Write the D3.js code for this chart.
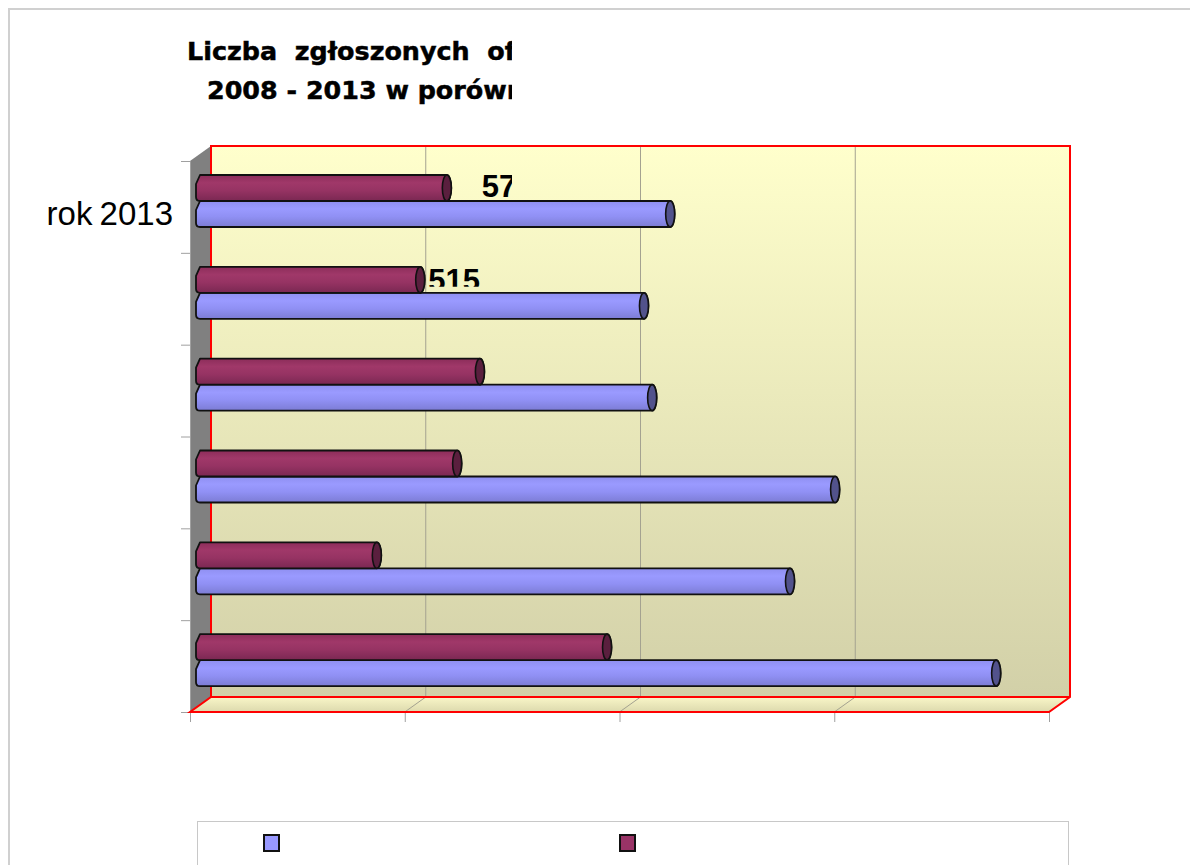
<!DOCTYPE html>
<html>
<head>
<meta charset="utf-8">
<script src="https://d3js.org/d3.v7.min.js"></script>
<style>
  body { margin: 0; background: #fff; }
  svg { display: block; }
</style>
</head>
<body>
<div id="chart-area"></div>
<script>
/*
*    chart.js
*/

// Data
var categories = ["rok 2013", "rok 2012", "rok 2011", "rok 2010", "rok 2009", "rok 2008"];
var tickLabels = ["rok 2013", "", "", "", "", ""];
var seriesRed = [577, 515, 654, 601, 414, 950];
var seriesBlue = [1097, 1036, 1055, 1481, 1376, 1856];
var valueLabels = ["577", "515", "", "", "", ""];
var xTicks = [0, 500, 1000, 1500, 2000];
var titleLines = ["Liczba  zgłoszonych  ofert", "2008 - 2013 w porównaniu"];

var width = 1190;
var height = 865;

var svg = d3.select("#chart-area").append("svg").attr("width", width).attr("height", height);
var defs = svg.append("defs");

// plot geometry (front plane)
var pLeft = 190, pRight = 1049, pTop = 161, pBottom = 712;
var depthX = 21, depthY = -15;
var barOff = 9;   // bars sit a bit behind the front plane

// Scales
var x = d3.scaleLinear().domain([0, 2000]).range([0, pRight - pLeft]);
var y = d3.scaleBand().domain(categories).range([pTop, pBottom]);
var yIdx = d3.scaleLinear().domain([0, categories.length]).range([pTop, pBottom]);

// gradients
function vGrad(id, stops, y1, y2) {
  var gr = defs.append("linearGradient").attr("id", id).attr("gradientUnits", "userSpaceOnUse")
    .attr("x1", 0).attr("x2", 0).attr("y1", y1).attr("y2", y2);
  stops.forEach((s) => { gr.append("stop").attr("offset", s[0]).attr("stop-color", s[1]); });
}
vGrad("wall", [[0, "#ffffcc"], [1, "#d2d0a8"]], pTop + depthY, pBottom + depthY);
vGrad("floor", [[0, "#f9f6c8"], [1, "#dcd9ad"]], pBottom + depthY, pBottom);

function barGrad(id, c) {
  var gr = defs.append("linearGradient").attr("id", id).attr("x1", 0).attr("x2", 0).attr("y1", 0).attr("y2", 1);
  gr.append("stop").attr("offset", 0).attr("stop-color", c[0]);
  gr.append("stop").attr("offset", 0.3).attr("stop-color", c[1]);
  gr.append("stop").attr("offset", 0.6).attr("stop-color", c[2]);
  gr.append("stop").attr("offset", 1).attr("stop-color", c[3]);
}
barGrad("gRed", ["#8c2d5a", "#a03869", "#963363", "#7a2852"]);
barGrad("gBlue", ["#8f8ff0", "#9a9aff", "#9090f4", "#7c7cd4"]);

defs.append("clipPath").attr("id", "clipText").append("rect").attr("x", 0).attr("y", 0).attr("width", 512).attr("height", height);

// outer frame
svg.append("path").attr("d", "M9,865 L9,9 L1190,9").attr("fill", "none").attr("stroke", "#d0d0d0").attr("stroke-width", 2);

// Title
var title = svg.append("g").attr("clip-path", "url(#clipText)");
title.append("text").attr("x", 187).attr("y", 60).attr("font-family", "DejaVu Sans").attr("font-weight", "bold")
  .attr("font-size", "25.4px").attr("stroke", "#000").attr("stroke-width", 0.5)
  .style("white-space", "pre").text(titleLines[0]);
title.append("text").attr("x", 207).attr("y", 99).attr("font-family", "DejaVu Sans").attr("font-weight", "bold")
  .attr("font-size", "25.4px").attr("stroke", "#000").attr("stroke-width", 0.5)
  .style("white-space", "pre").text(titleLines[1]);

// Walls
var g = svg.append("g");
g.append("rect").attr("x", pLeft + depthX).attr("y", pTop + depthY).attr("width", pRight - pLeft).attr("height", pBottom - pTop)
  .attr("fill", "url(#wall)");
g.append("polygon").attr("points", [[pLeft, pBottom], [pLeft + depthX, pBottom + depthY], [pRight + depthX, pBottom + depthY], [pRight, pBottom]].join(" "))
  .attr("fill", "url(#floor)");
g.append("polygon").attr("points", [[pLeft, pTop], [pLeft + depthX, pTop + depthY], [pLeft + depthX, pBottom + depthY], [pLeft, pBottom]].join(" "))
  .attr("fill", "#808080");

// gridlines
xTicks.slice(1, -1).forEach((t) => {
  var px = pLeft + x(t);
  g.append("line").attr("x1", px + depthX).attr("x2", px + depthX).attr("y1", pTop + depthY).attr("y2", pBottom + depthY)
    .attr("stroke", "#a4a290").attr("stroke-width", 1);
  g.append("line").attr("x1", px).attr("x2", px + depthX).attr("y1", pBottom).attr("y2", pBottom + depthY)
    .attr("stroke", "#a4a290").attr("stroke-width", 1);
});

// Axis
var yAxisCall = d3.axisLeft(yIdx).tickValues(d3.range(categories.length + 1)).tickSize(9).tickFormat("");
g.append("g").attr("class", "y axis").attr("transform", "translate(" + pLeft + ",0)").call(yAxisCall)
  .call((a) => { a.selectAll("line").attr("stroke", "#a0a0a0"); a.select(".domain").attr("stroke", "#a0a0a0"); });
var xAxisCall = d3.axisBottom(x).tickValues(xTicks).tickSize(10).tickFormat("");
g.append("g").attr("class", "x axis").attr("transform", "translate(" + pLeft + "," + pBottom + ")").call(xAxisCall)
  .call((a) => { a.selectAll("line").attr("stroke", "#a0a0a0"); a.select(".domain").attr("stroke", "#a0a0a0"); });

// red frame
var wx0 = pLeft + depthX, wx1 = pRight + depthX, wy0 = pTop + depthY, wy1 = pBottom + depthY;
g.append("path").attr("d", "M" + wx0 + "," + wy1 + " L" + wx0 + "," + wy0 + " L" + wx1 + "," + wy0 + " L" + wx1 + "," + wy1 +
  " L" + pRight + "," + pBottom + " L" + pLeft + "," + pBottom + " L" + wx0 + "," + wy1 + " L" + wx1 + "," + wy1)
  .attr("fill", "none").attr("stroke", "#ff0000").attr("stroke-width", 2).attr("stroke-linejoin", "miter");

// category label
svg.selectAll(".cat").data(categories).enter().append("text").attr("class", "cat")
  .attr("x", 173).attr("y", (d) => y(d) + y.bandwidth() / 2 + 18)
  .attr("text-anchor", "end").attr("font-family", "Liberation Sans, Arial").attr("font-size", "33px")
  .attr("word-spacing", "-2px")
  .text((d, i) => tickLabels[i]);

// Bars (cylinders)
var barH = 26;
var x0 = pLeft + barOff;
function bodyPath(x1, t) {
  var b = t + barH;
  return "M" + (x0 + 1) + "," + t + " L" + x1 + "," + t + " A4.5," + (barH / 2) + " 0 0 1 " + x1 + "," + b +
    " L" + (x0 + 1) + "," + b + " Q" + (x0 - 3) + "," + b + " " + (x0 - 3) + "," + (b - 4) +
    " L" + (x0 - 3) + "," + (t + 9) + " Z";
}
function drawBars(values, cls, fill, capFill, offset) {
  var bars = g.selectAll("." + cls).data(values).enter().append("g").attr("class", cls);
  bars.append("path").attr("d", (d, i) => bodyPath(x0 + x(d), y(categories[i]) + offset))
    .attr("fill", fill).attr("stroke", "#111").attr("stroke-width", 1.8).attr("stroke-linejoin", "round");
  bars.append("ellipse").attr("cx", (d) => x0 + x(d)).attr("cy", (d, i) => y(categories[i]) + offset + barH / 2)
    .attr("rx", 4.5).attr("ry", barH / 2).attr("fill", capFill).attr("stroke", "#111").attr("stroke-width", 1.6);
}
drawBars(seriesBlue, "blue", "url(#gBlue)", "#52528c", 40);
drawBars(seriesRed, "red", "url(#gRed)", "#5a1f3e", 14);

// value labels (clipped like the original)
var labelDx = [35, 8];
var labels = svg.append("g").attr("clip-path", "url(#clipText)");
valueLabels.forEach((lab, i) => {
  if (!lab) return;
  var t = y(categories[i]) + 14;
  var cid = "clipLab" + i;
  defs.append("clipPath").attr("id", cid).append("rect").attr("x", 0).attr("y", t - 20).attr("width", width).attr("height", barH + 19 - (i === 1 ? 5 : 0));
  labels.append("text").attr("clip-path", "url(#" + cid + ")")
    .attr("x", x0 + x(seriesRed[i]) + labelDx[i]).attr("y", t + 22 + (i === 1 ? 2 : 0))
    .attr("font-family", "Liberation Sans, Arial").attr("font-weight", "bold").attr("font-size", "31px")
    .text(lab);
});

// Legend
var legend = svg.append("g");
legend.append("rect").attr("x", 197.5).attr("y", 821.5).attr("width", 871).attr("height", 60)
  .attr("fill", "none").attr("stroke", "#c8c8c8");
var legendColors = ["#9999ff", "#993366"];
var legendX = [264, 620];
legendColors.forEach((c, i) => {
  legend.append("rect").attr("x", legendX[i]).attr("y", 835).attr("width", 15).attr("height", 16)
    .attr("fill", c).attr("stroke", "#111").attr("stroke-width", 2);
});
</script>
</body>
</html>
